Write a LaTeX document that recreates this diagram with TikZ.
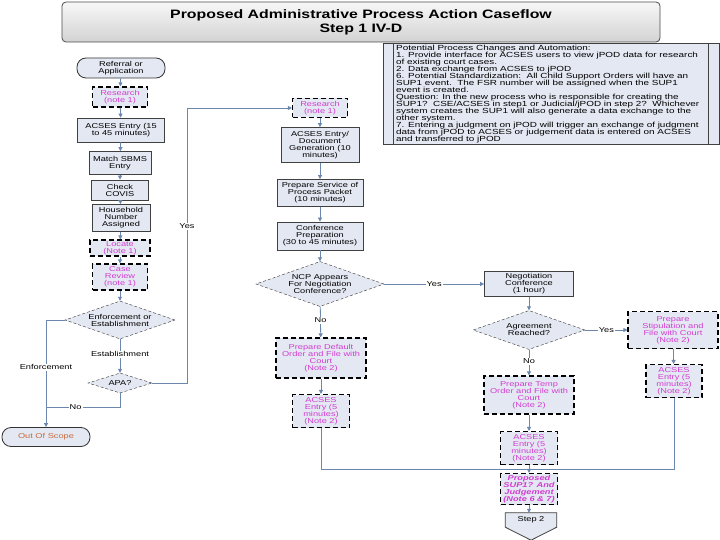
\documentclass[tikz,border=0pt]{standalone}
\usepackage{fontspec}
\setmainfont[FakeStretch=1.3]{Liberation Sans}
\newfontfamily\notefont[FakeStretch=1.34]{Liberation Sans}
\newfontfamily\titlefont[FakeStretch=1.3]{Liberation Sans}
\usetikzlibrary{shapes.geometric,arrows.meta,shadows,calc}
\definecolor{boxfill}{HTML}{E4E8F2}
\definecolor{conn}{HTML}{6C87AD}
\definecolor{mag}{HTML}{D23CD2}
\definecolor{oosc}{HTML}{C86A3C}
\newcommand\dgf{\fontsize{7.1}{7.0}\selectfont}
\tikzset{
  box/.style={rectangle, draw=black!75, line width=0.8pt, fill=boxfill, align=center,
    inner sep=0pt, font=\dgf, drop shadow={shadow xshift=0.8pt, shadow yshift=-0.8pt, fill=black!45}},
  dbox/.style={rectangle, draw=black, line width=1.1pt, dash pattern=on 5pt off 3pt,
    fill=boxfill, align=center, inner sep=0pt, font=\dgf, text=mag},
  dia/.style={diamond, draw=black!80, line width=0.4pt, densely dashed, fill=boxfill,
    inner sep=0pt, align=center, font=\dgf},
  term/.style={rectangle, rounded corners=9pt, draw=black!80, line width=0.8pt, fill=boxfill,
    align=center, inner sep=0pt, font=\dgf},
  lbl/.style={fill=white, inner sep=1pt, font=\dgf},
  arr/.style={draw=conn, line width=0.8pt, -{Triangle[length=4pt,width=4pt]}},
  ln/.style={draw=conn, line width=0.8pt},
}
\begin{document}
\begin{tikzpicture}[x=1pt,y=-1pt]
\useasboundingbox (0,0) rectangle (720,540);
\fill[white] (0,0) rectangle (720,540);

% title
\node (title) at (361,22) [rectangle, rounded corners=4pt, minimum width=598, minimum height=40,
  top color=gray!6, bottom color=gray!35, draw=black!70, line width=0.8pt, align=center,
  font=\titlefont\fontsize{12.2}{14}\selectfont\bfseries] {Proposed Administrative Process Action Caseflow\\Step 1 IV-D};

% note box
\node (note) at (551,93.5) [rectangle, minimum width=336, minimum height=101, draw=black!75,
  line width=0.8pt, fill=boxfill, inner sep=0pt] {};
\draw[black!75, line width=0.8pt] (393,43) -- (393,144);
\draw[black!75, line width=0.8pt] (708,43) -- (708,144);
\node (notetext) at (396,45) [anchor=north west, align=left, inner sep=0pt,
  font=\notefont\fontsize{7.4}{7.0}\selectfont] {Potential Process Changes and Automation:\\
1. Provide interface for ACSES users to view jPOD data for research\\
of existing court cases.\\
2. Data exchange from ACSES to jPOD\\
6. Potential Standardization:\ \ All Child Support Orders will have an\\
SUP1 event.\ \ The FSR number will be assigned when the SUP1\\
event is created.\\
Question: In the new process who is responsible for creating the\\
SUP1?\ \ CSE/ACSES in step1 or Judicial/jPOD in step 2?\ \ Whichever\\
system creates the SUP1 will also generate a data exchange to the\\
other system.\\
7. Entering a judgment on jPOD will trigger an exchange of judgment\\
data from jPOD to ACSES or judgement data is entered on ACSES\\
and transferred to jPOD};

% left column
\node[term, minimum width=88, minimum height=20] (ref) at (121,68) {Referral or\\Application};
\node[dbox, minimum width=55, minimum height=20] (res1) at (120,97) {Research\\(note 1)};
\node[box, minimum width=87, minimum height=24] (acs1) at (121,130) {ACSES Entry (15\\to 45 minutes)};
\node[box, minimum width=62, minimum height=23] (match) at (120,163) {Match SBMS\\Entry};
\node[box, minimum width=57, minimum height=20] (covis) at (120,190) {Check\\COVIS};
\node[box, minimum width=58, minimum height=27] (house) at (121,218) {Household\\Number\\Assigned};
\node[dbox, minimum width=60, minimum height=16] (locate) at (120,248) {Locate\\(Note 1)};
\node[dbox, minimum width=55, minimum height=26] (review) at (120,277) {Case\\Review\\(note 1)};
\node[dia, minimum width=110, minimum height=38, aspect=2.9] (d1) at (120,320) {Enforcement or\\Establishment};
\node[dia, minimum width=64, minimum height=20, aspect=3.2] (apa) at (120,383) {APA?};
\node[term, minimum width=88, minimum height=19, text=oosc] (oos) at (46,437) {Out Of Scope};
\coordinate (j1) at (46,407);
\coordinate (y1) at (187,383);
\coordinate (y2) at (187,108);

% middle column
\node[dbox, minimum width=55, minimum height=19] (res2) at (320,108) {Research\\(note 1)};
\node[box, minimum width=78, minimum height=35] (acs2) at (320,145) {ACSES Entry/\\Document\\Generation (10\\minutes)};
\node[box, minimum width=86, minimum height=27] (prep) at (320,193) {Prepare Service of\\Process Packet\\(10 minutes)};
\node[box, minimum width=86, minimum height=28] (conf) at (320,236) {Conference\\Preparation\\(30 to 45 minutes)};
\node[dia, minimum width=128, minimum height=45, aspect=2.85] (ncp) at (320,284) {NCP Appears\\For Negotiation\\Conference?};
\node[dbox, minimum width=90, minimum height=40] (default) at (321,358) {Prepare Default\\Order and File with\\Court\\(Note 2)};
\node[dbox, minimum width=57, minimum height=33] (acs3) at (321,411) {ACSES\\Entry (5\\minutes)\\(Note 2)};

% right-middle column
\node[box, minimum width=89, minimum height=25] (neg) at (529,284) {Negotiation\\Conference\\(1 hour)};
\node[dia, minimum width=112, minimum height=39, aspect=2.9] (agr) at (529,330) {Agreement\\Reached?};
\node[dbox, minimum width=90, minimum height=38] (temp) at (529,395) {Prepare Temp\\Order and File with\\Court\\(Note 2)};
\node[dbox, minimum width=57, minimum height=33] (acs4) at (529,448) {ACSES\\Entry (5\\minutes)\\(Note 2)};
\node[dbox, minimum width=57, minimum height=31, font=\dgf\bfseries\itshape] (prop) at (529,489) {Proposed\\SUP1? And\\Judgement\\(Note 6 \& 7)};
\node[rectangle, minimum width=51, minimum height=14, inner sep=0pt, font=\dgf] (step2) at (531,520) {};
\draw[black!75, line width=0.8pt, fill=boxfill] (step2.north west) -- (step2.north east) -- (step2.south east)
  -- ($(step2.south)+(0,13)$) -- (step2.south west) -- cycle;
\node[font=\dgf, inner sep=0pt] (step2t) at (step2.center) {Step 2};

% right column
\node[dbox, minimum width=90, minimum height=37] (stip) at (673,330) {Prepare\\Stipulation and\\File with Court\\(Note 2)};
\node[dbox, minimum width=56, minimum height=33] (acs5) at (674,381) {ACSES\\Entry (5\\minutes)\\(Note 2)};
\coordinate (m1) at (321,469);
\coordinate (m2) at (674,469);

% connectors left
\draw[arr] (ref) -- (res1);
\draw[arr] (res1) -- (acs1);
\draw[arr] (acs1) -- (match);
\draw[arr] (match) -- (covis);
\draw[arr] (covis) -- (house);
\draw[arr] (house) -- (locate);
\draw[arr] (locate) -- (review);
\draw[arr] (review) -- (d1);
\draw[arr] (d1) -- node[lbl, pos=0.45] {Establishment} (apa);
\draw[arr] (d1.west) -| node[lbl, pos=0.72] {Enforcement} (oos.north);
\draw[ln] (apa.south) |- node[lbl, pos=0.8] {No} (j1);
\draw[arr] (apa.east) -- (y1) -- node[lbl, pos=0.57] {Yes} (y2) -- (res2.west);

% connectors middle
\draw[arr] (res2) -- (acs2);
\draw[arr] (acs2) -- (prep);
\draw[arr] (prep) -- (conf);
\draw[arr] (conf) -- (ncp);
\draw[arr] (ncp) -- node[lbl, pos=0.45] {No} (default);
\draw[arr] (default) -- (acs3);
\draw[arr] (ncp) -- node[lbl, pos=0.5] {Yes} (neg);
\draw[arr] (neg) -- (agr);
\draw[arr] (agr) -- node[lbl, pos=0.45] {No} (temp);
\draw[arr] (agr) -- node[lbl, pos=0.5] {Yes} (stip);
\draw[arr] (temp) -- (acs4);
\draw[arr] (stip) -- (acs5);
\draw[ln] (acs3.south) -- (m1) -- (m2) -- (acs5.south);
\draw[arr] (acs4) -- (prop);
\draw[arr] (prop) -- (prop |- step2.north);
\end{tikzpicture}
\end{document}
